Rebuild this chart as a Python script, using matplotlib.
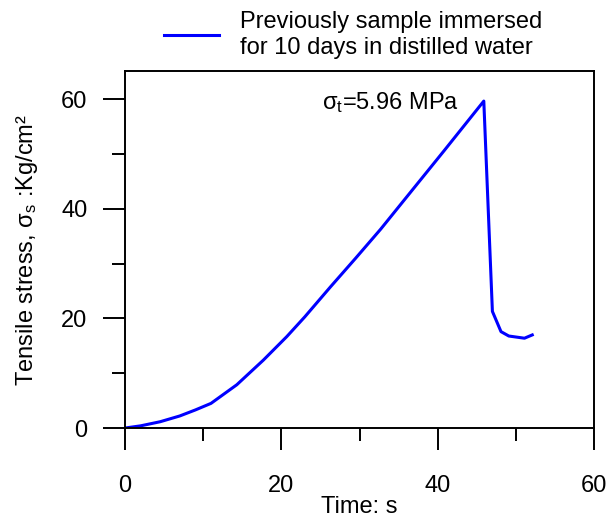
import numpy as np
import matplotlib
matplotlib.use('Agg')
import matplotlib.pyplot as plt
from matplotlib.ticker import MultipleLocator

plt.rcParams['font.family'] = ['Liberation Sans', 'DejaVu Sans']
plt.rcParams['mathtext.fontset'] = 'custom'
plt.rcParams['mathtext.rm'] = 'Liberation Sans'
plt.rcParams['mathtext.it'] = 'Liberation Sans'
plt.rcParams['mathtext.sf'] = 'Liberation Sans'

# okunan veriler (zaman, gerilme)
time_s = [0, 2, 4.5, 7, 9, 11, 14.3, 17.7, 20.7, 23, 26.3, 29.5, 32.7,
          35.7, 40.8, 45.9, 47.0, 48.1, 49.1, 51.1, 52.1]
stress = [0, 0.4, 1.15, 2.2, 3.3, 4.5, 7.9, 12.4, 16.7, 20.3, 25.8,
          31.0, 36.3, 41.6, 50.6, 59.7, 21.3, 17.6, 16.8, 16.4, 17.0]
series_label = 'Previously sample immersed\nfor 10 days in distilled water'
note = r'$\mathrm{\sigma_t}$=5.96 MPa'

fs = 17

fig = plt.figure(figsize=(6.08, 5.18), dpi=100)
ax = fig.add_axes([0.2056, 0.1737, 0.7714, 0.6893])

ax.plot(time_s, stress, color='#0000ff', lw=2.2, label=series_label)

ax.set_xlim(0, 60)
ax.set_ylim(0, 65.2)
ax.xaxis.set_major_locator(MultipleLocator(20))
ax.xaxis.set_minor_locator(MultipleLocator(10))
ax.yaxis.set_major_locator(MultipleLocator(20))
ax.yaxis.set_minor_locator(MultipleLocator(10))

for s in ax.spines.values():
    s.set_linewidth(1.4)
ax.tick_params(which='major', direction='out', length=16, width=1.4,
               labelsize=fs, top=False, right=False)
ax.tick_params(which='minor', direction='out', length=9.5, width=1.4,
               top=False, right=False)
ax.tick_params(axis='x', which='major', pad=18)
ax.tick_params(axis='y', which='major', pad=11)

ax.set_xlabel('Time: s', fontsize=fs, labelpad=-1)
ax.set_ylabel(r'Tensile stress, $\mathrm{\sigma_s}$ :Kg/cm²', fontsize=fs, labelpad=15)

ax.text(25.2, 59.4, note, fontsize=fs, va='center', ha='left')

ax.legend(loc='center left', bbox_to_anchor=(0.064, 1.101), frameon=False,
          fontsize=fs, handlelength=2.3, handletextpad=0.9, borderaxespad=0,
          labelspacing=0.2)

plt.savefig('out.png', dpi=100)
